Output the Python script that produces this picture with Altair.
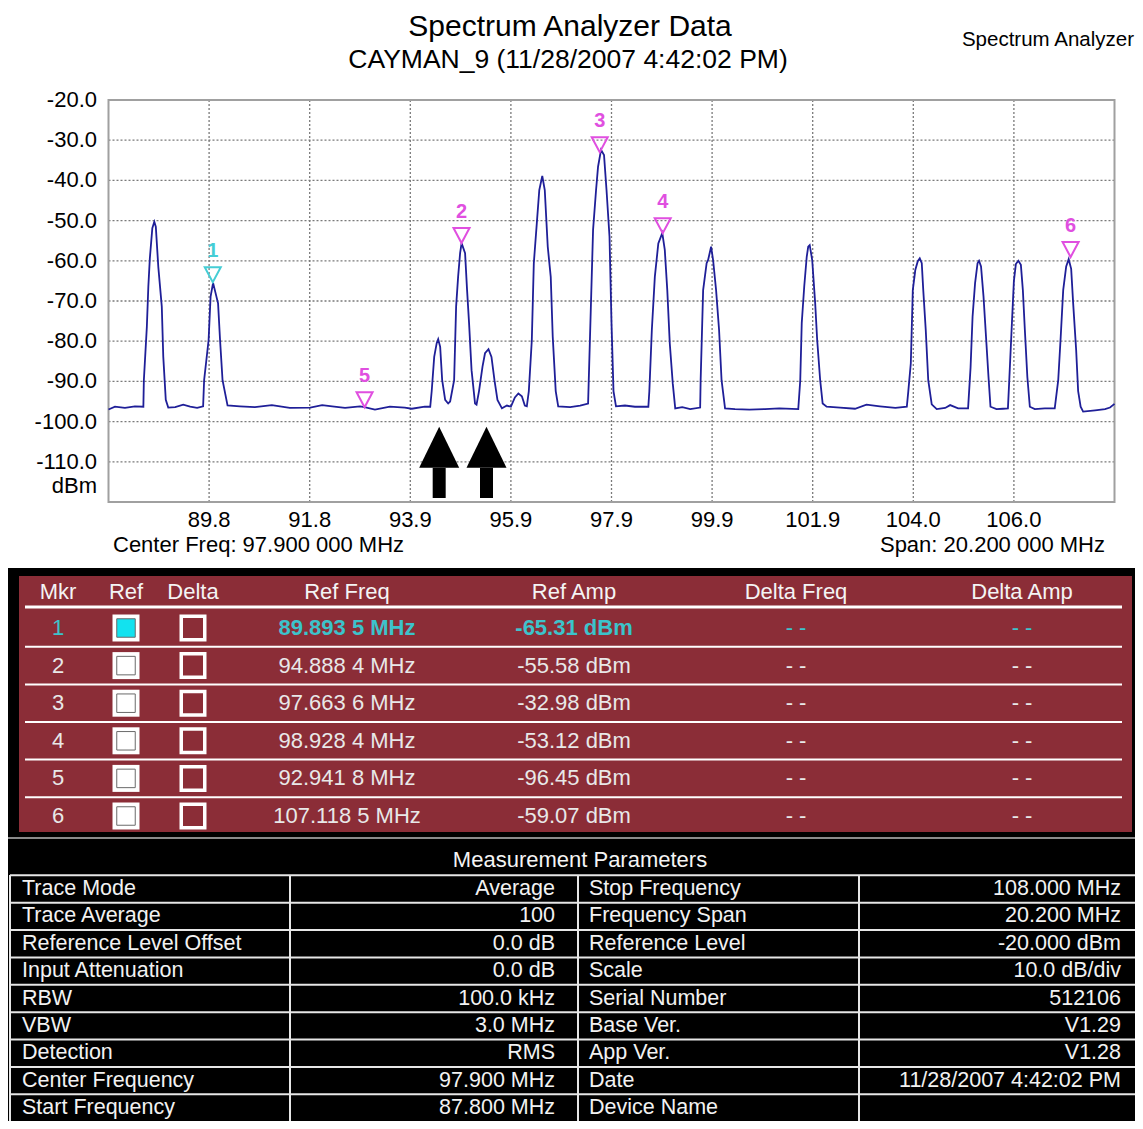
import altair as alt
import pandas as pd

FONT = "Liberation Sans, Arial, Helvetica, sans-serif"
MARGIN = 8

# ---------------- data ----------------
# spectrum trace: (frequency MHz, level dBm)
trace = [
    (87.80, -97.0), (87.93, -96.3), (88.13, -96.6), (88.33, -96.2), (88.50, -96.3),
    (88.51, -89.7), (88.57, -76.4), (88.60, -66.4), (88.63, -59.4), (88.68, -51.9), (88.72, -50.3),
    (88.75, -51.5), (88.80, -61.5), (88.87, -71.4), (88.90, -83.9), (88.95, -94.6), (89.00, -96.5),
    (89.14, -96.4), (89.30, -95.8), (89.44, -96.3), (89.58, -96.6), (89.70, -96.2),
    (89.72, -89.7), (89.81, -79.7), (89.85, -68.9), (89.90, -65.5), (90.00, -70.6), (90.04, -79.7),
    (90.09, -89.7), (90.19, -96.0),
    (90.44, -96.2), (90.74, -96.4), (91.08, -95.9), (91.44, -96.6), (91.85, -96.5), (92.09, -95.9),
    (92.29, -96.2), (92.55, -96.6), (92.85, -96.2), (92.94, -96.4), (93.15, -97.0), (93.45, -96.3),
    (93.75, -96.5), (93.89, -96.8), (94.15, -96.3), (94.26, -96.3),
    (94.29, -92.4), (94.34, -83.9), (94.39, -80.5), (94.42, -79.5), (94.46, -81.4), (94.50, -89.7),
    (94.56, -94.6), (94.62, -95.5),
    (94.66, -95.0), (94.74, -89.7), (94.78, -71.4), (94.82, -64.0), (94.86, -58.1), (94.89, -55.6),
    (94.96, -58.1), (95.00, -67.3), (95.04, -75.5), (95.09, -87.2), (95.16, -95.5), (95.19, -95.8),
    (95.24, -92.4), (95.31, -86.3), (95.36, -83.0), (95.43, -82.0), (95.49, -83.9), (95.55, -89.7),
    (95.61, -94.6), (95.70, -96.7), (95.80, -96.0), (95.88, -96.3),
    (95.96, -94.0), (96.03, -93.0), (96.10, -93.7), (96.16, -96.0),
    (96.20, -96.2), (96.24, -92.4), (96.30, -79.7), (96.34, -60.6), (96.40, -50.7), (96.45, -42.4),
    (96.51, -38.9), (96.56, -42.4), (96.62, -56.5), (96.68, -64.0), (96.72, -78.9), (96.78, -92.4),
    (96.83, -96.2),
    (97.07, -96.4), (97.27, -96.0), (97.43, -95.5),
    (97.48, -73.9), (97.53, -52.3), (97.59, -42.4), (97.63, -36.6), (97.69, -32.4), (97.75, -33.7),
    (97.80, -42.4), (97.86, -54.0), (97.90, -75.5), (97.94, -92.4), (97.99, -96.2),
    (98.17, -96.0), (98.37, -96.3), (98.64, -96.3),
    (98.66, -92.4), (98.71, -77.2), (98.77, -64.0), (98.84, -55.7), (98.92, -53.1), (98.97, -57.3),
    (99.02, -67.3), (99.07, -80.5), (99.13, -90.5), (99.18, -96.7),
    (99.32, -96.4), (99.48, -96.9), (99.68, -96.5),
    (99.69, -89.7), (99.74, -67.3), (99.81, -60.6), (99.84, -59.8), (99.90, -56.5), (99.94, -59.8),
    (100.00, -67.3), (100.06, -77.2), (100.11, -89.7), (100.18, -96.7),
    (100.38, -96.9), (100.67, -97.0), (100.98, -96.9), (101.27, -96.7), (101.65, -96.9),
    (101.69, -89.7), (101.72, -75.5), (101.77, -66.4), (101.82, -59.0), (101.85, -56.5), (101.88, -56.1),
    (101.93, -59.8), (101.99, -70.6), (102.03, -79.7), (102.09, -89.7), (102.14, -95.5), (102.22, -96.3),
    (102.49, -96.5), (102.79, -96.8), (103.02, -95.8), (103.29, -96.2), (103.60, -96.6), (103.83, -96.3),
    (103.86, -92.4), (103.91, -85.5), (103.95, -67.3), (104.00, -62.3), (104.05, -60.1), (104.09, -59.4),
    (104.13, -60.6), (104.16, -67.3), (104.21, -77.2), (104.26, -89.7), (104.33, -95.7), (104.43, -96.9),
    (104.60, -96.6), (104.70, -95.9), (104.86, -96.7), (105.06, -96.7),
    (105.11, -86.5), (105.15, -73.9), (105.20, -65.6), (105.25, -60.6), (105.28, -60.0), (105.32, -61.4),
    (105.37, -68.9), (105.42, -78.9), (105.47, -88.9), (105.51, -96.3),
    (105.63, -96.9), (105.76, -96.8), (105.86, -96.7),
    (105.89, -88.9), (105.94, -75.5), (105.98, -65.0), (106.02, -60.8), (106.07, -60.0), (106.12, -61.0),
    (106.16, -67.3), (106.20, -77.2), (106.25, -88.9), (106.30, -96.3),
    (106.40, -96.9), (106.60, -96.7), (106.80, -96.7),
    (106.87, -89.7), (106.92, -78.9), (106.97, -67.3), (107.03, -61.4), (107.08, -59.6), (107.13, -62.0),
    (107.17, -70.6), (107.23, -82.2), (107.27, -92.4), (107.32, -96.3), (107.37, -97.5),
    (107.61, -97.2), (107.81, -96.9), (107.91, -96.5), (108.00, -95.6),
]

marker_ids = ["1", "2", "3", "4", "5", "6"]
marker_freq = [89.8935, 94.8884, 97.6636, 98.9284, 92.9418, 107.1185]
marker_amp = [-65.31, -55.58, -32.98, -53.12, -96.45, -59.07]
marker_freq_text = ["89.893 5 MHz", "94.888 4 MHz", "97.663 6 MHz",
                    "98.928 4 MHz", "92.941 8 MHz", "107.118 5 MHz"]
marker_amp_text = ["-65.31 dBm", "-55.58 dBm", "-32.98 dBm",
                   "-53.12 dBm", "-96.45 dBm", "-59.07 dBm"]
marker_delta_freq = ["- -", "- -", "- -", "- -", "- -", "- -"]
marker_delta_amp = ["- -", "- -", "- -", "- -", "- -", "- -"]
marker_ref_state = ["on", "off", "off", "off", "off", "off"]

x_tick_values = [89.82, 91.84, 93.86, 95.88, 97.90, 99.92, 101.94, 103.96, 105.98]
x_tick_labels = ["89.8", "91.8", "93.9", "95.9", "97.9", "99.9", "101.9", "104.0", "106.0"]
y_tick_values = [-20, -30, -40, -50, -60, -70, -80, -90, -100, -110]
y_tick_labels = ["-20.0", "-30.0", "-40.0", "-50.0", "-60.0", "-70.0",
                 "-80.0", "-90.0", "-100.0", "-110.0"]

freq_start, freq_stop = 87.8, 108.0
level_top, level_bottom = -20.0, -120.0

arrow_freq = [94.44, 95.39]
arrow_head_level = -111.5
arrow_tail_level = -119.0

mkr_headers = ["Mkr", "Ref", "Delta", "Ref Freq", "Ref Amp", "Delta Freq", "Delta Amp"]

param_names_left = ["Trace Mode", "Trace Average", "Reference Level Offset", "Input Attenuation",
                    "RBW", "VBW", "Detection", "Center Frequency", "Start Frequency"]
param_values_left = ["Average", "100", "0.0 dB", "0.0 dB", "100.0 kHz", "3.0 MHz", "RMS",
                     "97.900 MHz", "87.800 MHz"]
param_names_right = ["Stop Frequency", "Frequency Span", "Reference Level", "Scale",
                     "Serial Number", "Base Ver.", "App Ver.", "Date", "Device Name"]
param_values_right = ["108.000 MHz", "20.200 MHz", "-20.000  dBm", "10.0  dB/div", "512106",
                      "V1.29", "V1.28", "11/28/2007 4:42:02 PM", ""]

title_text = "Spectrum Analyzer Data"
subtitle_text = "CAYMAN_9 (11/28/2007 4:42:02 PM)"
corner_text = "Spectrum Analyzer"
center_text = "Center Freq: 97.900 000 MHz"
span_text = "Span: 20.200 000 MHz"
params_title = "Measurement Parameters"

# ---------------- styles ----------------
TRACE = "#1f1f98"
GRID = "#7a7a7a"
FRAME = "#a0a0a0"
MAG = "#e04fe0"
CYAN_MK = "#45cdd5"
TABLE_RED = "#8b2d37"
CYAN_TXT = "#3cc3cb"
CYAN_BOX = "#12e2ef"
ROW_TXT = "#e8e8e8"
HEAD_TXT = "#f4f4f4"
FS = 22

one = pd.DataFrame({"k": [0]})


def P(v):
    return v - MARGIN


def rect(x0, x1, y0, y1, fill):
    return alt.Chart(one).mark_rect(fill=fill).encode(
        x=alt.value(P(x0)), x2=alt.value(P(x1)), y=alt.value(P(y0)), y2=alt.value(P(y1)))


def hline(y, x0, x1, color, w):
    return alt.Chart(one).mark_rule(color=color, strokeWidth=w).encode(
        x=alt.value(P(x0)), x2=alt.value(P(x1)), y=alt.value(P(y)))


def vline(x, y0, y1, color, w):
    return alt.Chart(one).mark_rule(color=color, strokeWidth=w).encode(
        x=alt.value(P(x)), y=alt.value(P(y0)), y2=alt.value(P(y1)))


def label(text, x, y, size, align="center", color="black", weight="normal", baseline="middle"):
    return alt.Chart(one).mark_text(
        text=text, font=FONT, fontSize=size, align=align, baseline=baseline,
        color=color, fontWeight=weight).encode(x=alt.value(P(x)), y=alt.value(P(y)))


layers = []

# ---------------- spectrum plot ----------------
FX = alt.Scale(domain=[freq_start, freq_stop], range=[P(108.5), P(1114.5)], nice=False, zero=False)
FY = alt.Scale(domain=[level_bottom, level_top], range=[P(502), P(100)], nice=False, zero=False)


def fx(field):
    return alt.X(f"{field}:Q", scale=FX, axis=None)


def fy(field):
    return alt.Y(f"{field}:Q", scale=FY, axis=None)


frame_df = pd.DataFrame({"x0": [freq_start], "x1": [freq_stop], "y0": [level_bottom], "y1": [level_top]})
vgrid_df = pd.DataFrame({"f": x_tick_values, "lo": level_bottom, "hi": level_top})
hgrid_df = pd.DataFrame({"v": y_tick_values[1:], "lo": freq_start, "hi": freq_stop})
trace_df = pd.DataFrame(trace, columns=["freq", "dbm"])
mk_df = pd.DataFrame({"id": marker_ids, "freq": marker_freq, "amp": marker_amp})
arrow_df = pd.DataFrame({"f": arrow_freq, "head": arrow_head_level, "tail": arrow_tail_level})
xt_df = pd.DataFrame({"f": x_tick_values, "t": x_tick_labels})
yt_df = pd.DataFrame({"v": y_tick_values, "t": y_tick_labels})

mk_color = alt.Color("id:N", scale=alt.Scale(domain=marker_ids,
                                             range=[CYAN_MK, MAG, MAG, MAG, MAG, MAG]), legend=None)

layers += [
    alt.Chart(vgrid_df).mark_rule(color=GRID, strokeDash=[2, 2], strokeWidth=1.3).encode(
        x=fx("f"), y=fy("lo"), y2="hi"),
    alt.Chart(hgrid_df).mark_rule(color=GRID, strokeDash=[2, 2], strokeWidth=1.3).encode(
        y=fy("v"), x=fx("lo"), x2="hi"),
    alt.Chart(frame_df).mark_rect(fillOpacity=0, stroke=FRAME, strokeWidth=2).encode(
        x=fx("x0"), x2="x1", y=fy("y0"), y2="y1"),
    alt.Chart(trace_df).mark_line(color=TRACE, strokeWidth=1.8).encode(x=fx("freq"), y=fy("dbm")),
    alt.Chart(mk_df).mark_point(shape="M-1,-1.875L1,-1.875L0,0Z", size=256, filled=False,
                                strokeWidth=2, opacity=1).encode(
        x=fx("freq"), y=fy("amp"), color=mk_color),
    alt.Chart(mk_df).mark_text(font=FONT, fontSize=20, fontWeight="bold", dy=-25,
                               baseline="alphabetic").encode(
        x=fx("freq"), y=fy("amp"), text="id:N", color=mk_color),
    alt.Chart(arrow_df).mark_rule(color="black", strokeWidth=13).encode(
        x=fx("f"), y=fy("head"), y2="tail"),
    alt.Chart(arrow_df).mark_point(shape="M-1,0L1,0L0,-2.05Z", size=1600, filled=True,
                                   color="black", opacity=1, strokeWidth=0).encode(
        x=fx("f"), y=fy("head")),
    alt.Chart(yt_df).mark_text(font=FONT, fontSize=FS, align="right", baseline="middle",
                               color="black").encode(
        x=alt.value(P(97)), y=fy("v"), text="t:N"),
    alt.Chart(xt_df).mark_text(font=FONT, fontSize=FS, align="center", baseline="middle",
                               color="black").encode(
        x=fx("f"), y=alt.value(P(520)), text="t:N"),
    label("dBm", 97, 486, FS, align="right"),
    label(center_text, 113, 545, FS, align="left"),
    label(span_text, 1105, 545, FS, align="right"),
    label(title_text, 570, 35.5, 30, baseline="alphabetic"),
    label(subtitle_text, 568, 68, 26.5, baseline="alphabetic"),
    label(corner_text, 1134, 46, 20.5, align="right", baseline="alphabetic"),
]

# ---------------- marker table ----------------
layers += [
    rect(MARGIN, 1143, 568, 1129, "black"),
    rect(19, 1132, 576, 832, TABLE_RED),
    hline(838, MARGIN, 1143, "#8a8a8a", 2),
]

mkr_col_x = [58, 126, 193, 347, 574, 796, 1022]
for name, xc in zip(mkr_headers, mkr_col_x):
    layers.append(label(name, xc, 592, FS, color=HEAD_TXT))
layers.append(hline(607, 25, 1122, "white", 3))

RY = alt.Scale(domain=[1, 6], range=[P(628), P(816)], nice=False, zero=False)
mkr_df = pd.DataFrame({
    "row": list(range(1, len(marker_ids) + 1)),
    "id": marker_ids,
    "freq": marker_freq_text,
    "amp": marker_amp_text,
    "dfreq": marker_delta_freq,
    "damp": marker_delta_amp,
    "state": marker_ref_state,
})
on_df = mkr_df[mkr_df["state"] == "on"]
off_df = mkr_df[mkr_df["state"] != "on"]
sep_df = pd.DataFrame({"s": [r + 0.5 for r in mkr_df["row"][:-1]]})


def ry():
    return alt.Y("row:Q", scale=RY, axis=None)


layers.append(alt.Chart(sep_df).mark_rule(color="white", strokeWidth=2).encode(
    y=alt.Y("s:Q", scale=RY, axis=None), x=alt.value(P(25)), x2=alt.value(P(1122))))

for field, xc in [("id", 58), ("freq", 347), ("amp", 574), ("dfreq", 796), ("damp", 1022)]:
    layers.append(alt.Chart(off_df).mark_text(font=FONT, fontSize=FS, color=ROW_TXT,
                                              baseline="middle").encode(
        x=alt.value(P(xc)), y=ry(), text=f"{field}:N"))
    bold = "bold" if field in ("freq", "amp") else "normal"
    layers.append(alt.Chart(on_df).mark_text(font=FONT, fontSize=FS, color=CYAN_TXT,
                                             fontWeight=bold, baseline="middle").encode(
        x=alt.value(P(xc)), y=ry(), text=f"{field}:N"))

# checkboxes
layers += [
    alt.Chart(mkr_df).mark_square(size=729, color="white", filled=True, opacity=1).encode(
        x=alt.value(P(126)), y=ry()),
    alt.Chart(off_df).mark_square(size=342, fill="white", stroke="#6a6a6a", strokeWidth=1,
                                  filled=True, opacity=1).encode(x=alt.value(P(126)), y=ry()),
    alt.Chart(on_df).mark_square(size=342, fill=CYAN_BOX, stroke="#6a6a6a", strokeWidth=1,
                                 filled=True, opacity=1).encode(x=alt.value(P(126)), y=ry()),
    alt.Chart(mkr_df).mark_square(size=552, filled=False, color="white", strokeWidth=3.5,
                                  opacity=1).encode(x=alt.value(P(193)), y=ry()),
]

# ---------------- measurement parameters ----------------
layers.append(label(params_title, 580, 860, FS, color=HEAD_TXT))

PY = alt.Scale(domain=[1, 9], range=[P(889), P(1108)], nice=False, zero=False)
par_df = pd.DataFrame({
    "row": list(range(1, len(param_names_left) + 1)),
    "a": param_names_left, "b": param_values_left,
    "c": param_names_right, "d": param_values_right,
})
par_sep_df = pd.DataFrame({"s": [r - 0.5 for r in par_df["row"]]})
layers.append(alt.Chart(par_sep_df).mark_rule(color="#e6e6e6", strokeWidth=2).encode(
    y=alt.Y("s:Q", scale=PY, axis=None), x=alt.value(P(10)), x2=alt.value(P(1143))))
for xc in [10, 290, 578, 859]:
    layers.append(vline(xc, 875, 1129, "#e6e6e6", 2))

for field, xc, al in [("a", 22, "left"), ("b", 555, "right"), ("c", 589, "left"), ("d", 1121, "right")]:
    layers.append(alt.Chart(par_df).mark_text(font=FONT, fontSize=21.5, color="#f2f2f2", align=al,
                                              baseline="middle").encode(
        x=alt.value(P(xc)), y=alt.Y("row:Q", scale=PY, axis=None), text=f"{field}:N"))

chart = alt.layer(*layers).resolve_scale(
    x="independent", y="independent"
).properties(
    width=1143 - 2 * MARGIN, height=1129 - 2 * MARGIN, padding=0,
    autosize=alt.AutoSizeParams(type="none"), background="white"
).configure_view(strokeWidth=0)

chart.save("out.html", embed_options={"renderer": "svg", "actions": False})
